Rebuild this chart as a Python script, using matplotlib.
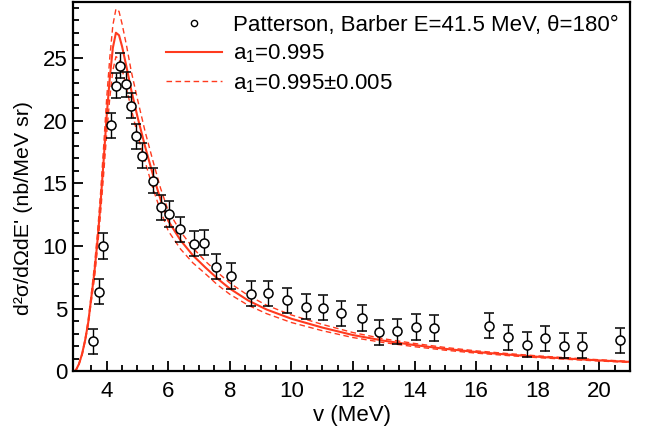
import numpy as np
import matplotlib.pyplot as plt
from matplotlib.lines import Line2D

plt.rcParams['font.family'] = ['Liberation Sans', 'DejaVu Sans']
plt.rcParams['mathtext.fontset'] = 'custom'
plt.rcParams['mathtext.rm'] = 'Liberation Sans'
plt.rcParams['mathtext.it'] = 'Liberation Sans'

# measured points (Patterson, Barber)
nu = [3.57, 3.75, 3.89, 4.13, 4.29, 4.43, 4.63, 4.78, 4.95, 5.16, 5.49, 5.77,
      6.02, 6.38, 6.84, 7.16, 7.56, 8.05, 8.69, 9.23, 9.87, 10.47, 11.04,
      11.61, 12.28, 12.85, 13.43, 14.06, 14.63, 16.43, 17.03, 17.64, 18.24,
      18.85, 19.43, 20.67]
xs = [2.42, 6.36, 10.0, 19.62, 22.78, 24.38, 22.9, 21.19, 18.75, 17.18, 15.2,
      13.09, 12.55, 11.33, 10.19, 10.27, 8.33, 7.61, 6.2, 6.23, 5.67, 5.16,
      5.06, 4.63, 4.26, 3.12, 3.2, 3.54, 3.46, 3.65, 2.74, 2.13, 2.66, 2.05,
      2.05, 2.5]
err = [1.0] * len(nu)

# model curves
nu_c = [2.92, 3.0, 3.1, 3.2, 3.3, 3.4, 3.5, 3.6, 3.7, 3.8, 3.9, 4.0, 4.1,
        4.2, 4.3, 4.4, 4.5, 4.65, 4.8, 5.0, 5.25, 5.5, 5.75, 6.0, 6.4, 6.8,
        7.2, 7.6, 8.0, 8.6, 9.2, 10.0, 11.0, 12.0, 13.0, 14.0, 15.0, 16.0,
        17.0, 18.0, 19.0, 20.0, 21.0]
xs_mid = [0.0, 0.1, 0.6, 1.4, 2.5, 3.9, 5.9, 7.9, 10.4, 13.4, 16.8, 20.4,
          23.4, 25.8, 27.0, 26.8, 25.9, 24.2, 22.4, 20.3, 17.9, 15.7, 13.7,
          12.0, 10.45, 9.25, 8.3, 7.4, 6.6, 5.65, 4.93, 4.2, 3.5, 2.9, 2.45,
          2.1, 1.8, 1.55, 1.35, 1.17, 1.02, 0.88, 0.76]
xs_hi = [0.0, 0.1, 0.6, 1.4, 2.6, 4.1, 6.2, 8.4, 11.0, 14.2, 17.9, 21.8,
         25.0, 27.6, 28.9, 28.7, 27.7, 25.9, 23.9, 21.7, 19.1, 16.8, 14.6,
         12.8, 11.15, 9.85, 8.8, 7.9, 7.05, 6.05, 5.27, 4.5, 3.75, 3.1, 2.6,
         2.23, 1.91, 1.64, 1.43, 1.24, 1.08, 0.93, 0.8]
xs_lo = [0.0, 0.1, 0.6, 1.3, 2.4, 3.7, 5.6, 7.4, 9.8, 12.6, 15.7, 19.0,
         21.8, 24.0, 25.1, 24.9, 24.1, 22.5, 20.9, 18.9, 16.7, 14.6, 12.8,
         11.2, 9.75, 8.65, 7.8, 6.9, 6.15, 5.27, 4.6, 3.9, 3.25, 2.7, 2.3,
         1.97, 1.69, 1.46, 1.27, 1.1, 0.96, 0.83, 0.72]

red = '#ff3a1e'
fs = 16

fig = plt.figure(figsize=(6.48, 4.38), dpi=100)
ax = fig.add_axes([0.1127, 0.152, 0.8595, 0.8434])

ax.plot(nu_c, xs_mid, color=red, lw=1.5)
ax.plot(nu_c, xs_hi, color=red, lw=1.0, ls=(0, (4, 2.5)))
ax.plot(nu_c, xs_lo, color=red, lw=1.0, ls=(0, (4, 2.5)))
ax.errorbar(nu, xs, yerr=err, fmt='o', mfc='white', mec='black', mew=1.1,
            ms=6.5, ecolor='black', elinewidth=1.0, capsize=3.5, capthick=1.0)

ax.set_xlim(2.906, 21.0)
ax.set_ylim(0, 29.45)
ax.set_xticks(np.arange(4, 21, 2))
ax.set_xticks(np.arange(3.5, 21, 0.5), minor=True)
ax.set_yticks(np.arange(0, 26, 5))
ax.set_yticks(np.arange(0, 30, 1), minor=True)
ax.tick_params(which='both', direction='in', top=False, right=False,
               labelsize=fs, width=1.3)
ax.tick_params(which='major', length=7)
ax.tick_params(which='minor', length=4)
ax.tick_params(axis='x', pad=7)
ax.tick_params(axis='y', pad=4)
for s in ax.spines.values():
    s.set_linewidth(1.6)

ax.set_xlabel('v (MeV)', fontsize=fs, labelpad=2)
ax.set_ylabel("d²σ/dΩdE' (nb/MeV sr)", fontsize=15.4)
ax.yaxis.set_label_coords(-0.072, 0.442)

handles = [
    Line2D([], [], ls='none', marker='o', mfc='white', mec='black', ms=4.5, mew=1.0),
    Line2D([], [], color=red, lw=1.5),
    Line2D([], [], color=red, lw=1.0, ls=(0, (4, 2.5))),
]
labels = ['Patterson, Barber E=41.5 MeV, θ=180°', r'a$_{\mathregular{1}}$=0.995',
          r'a$_{\mathregular{1}}$=0.995±0.005']
ax.legend(handles, labels, loc='upper right', bbox_to_anchor=(1.0, 0.995),
          frameon=False, fontsize=fs, handlelength=2.5, handletextpad=0.5,
          labelspacing=0.3, borderaxespad=0.1)

fig.savefig('out.png', dpi=100)
